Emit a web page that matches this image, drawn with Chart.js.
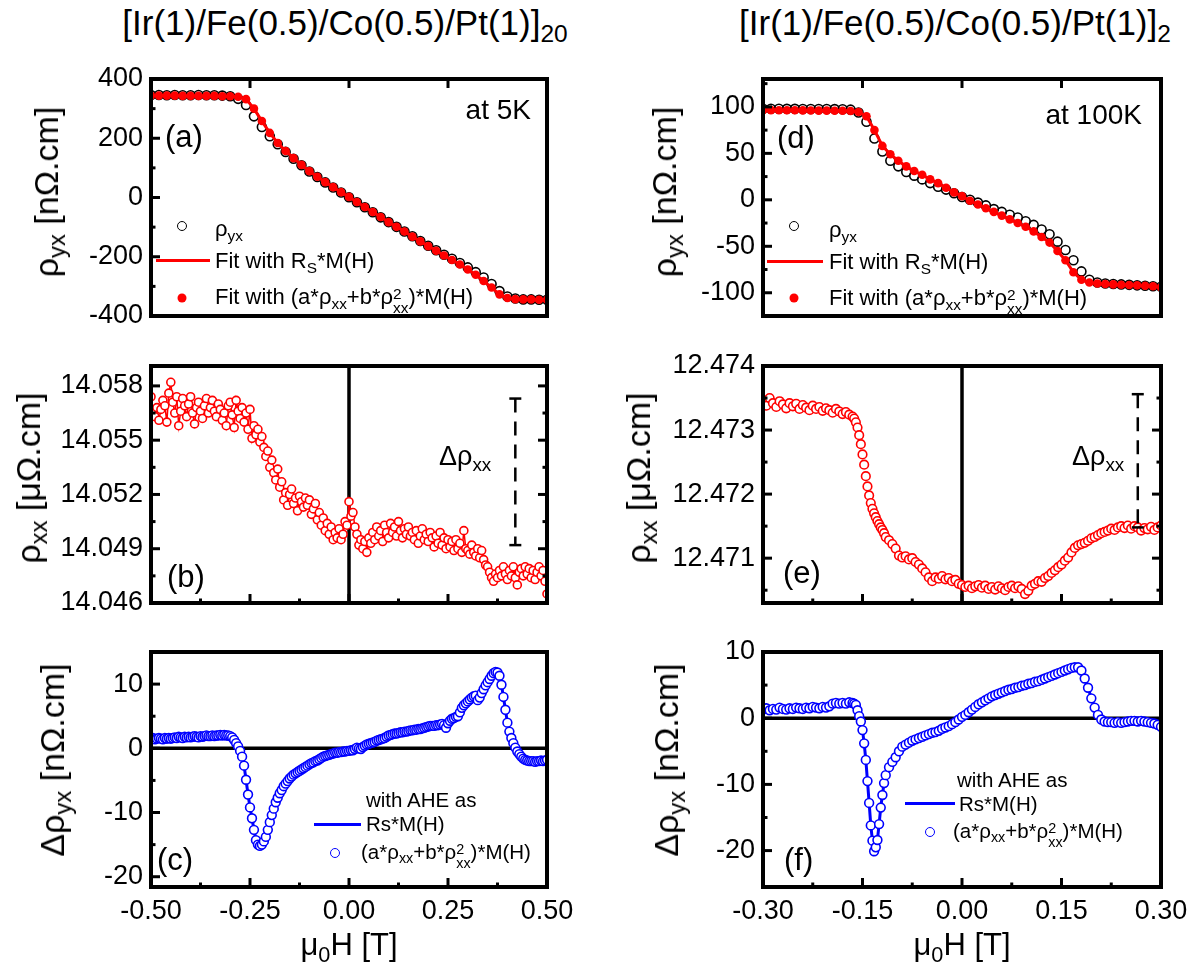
<!DOCTYPE html>
<html>
<head>
<meta charset="utf-8">
<script src="https://cdn.jsdelivr.net/npm/chart.js@4.4.1/dist/chart.umd.min.js"></script>
<style>
  body { margin: 0; background: #fff; }
  #fig { position: relative; width: 1202px; height: 971px; overflow: hidden;
         font-family: 'Liberation Sans', Arial, sans-serif; color: #000; }
  #fig canvas { position: absolute; z-index: 1; }
  .t { position: absolute; white-space: nowrap; line-height: 1; z-index: 2; }
  .rot { transform: translate(-50%, -50%) rotate(-90deg); }
  .ctr { transform: translateX(-50%); }
  sub { font-size: 0.7em; vertical-align: -0.3em; line-height: 0; }
  .ss { display: inline-flex; flex-direction: column; font-size: 0.7em; line-height: 0.95;
        vertical-align: 0.35em; }
  .sym { position: absolute; z-index: 2; }
  .oc { border-radius: 50%; transform: translate(-50%, -50%); box-sizing: border-box; }
</style>
</head>
<body>
<div id="fig">
  <!-- column titles -->
  <div class="t ctr" style="left:345px; top:5px; font-size:35px">[Ir(1)/Fe(0.5)/Co(0.5)/Pt(1)]<sub>20</sub></div>
  <div class="t ctr" style="left:955px; top:5px; font-size:35px">[Ir(1)/Fe(0.5)/Co(0.5)/Pt(1)]<sub>2</sub></div>

  <!-- y axis titles -->
  <div class="t rot" style="left:46px; top:192px; font-size:34px">ρ<sub>yx</sub> [nΩ.cm]</div>
  <div class="t rot" style="left:664px; top:192px; font-size:34px">ρ<sub>yx</sub> [nΩ.cm]</div>
  <div class="t rot" style="left:28px; top:478px; font-size:34px">ρ<sub>xx</sub> [μΩ.cm]</div>
  <div class="t rot" style="left:638px; top:478px; font-size:34px">ρ<sub>xx</sub> [μΩ.cm]</div>
  <div class="t rot" style="left:52px; top:760px; font-size:34px">Δρ<sub>yx</sub> [nΩ.cm]</div>
  <div class="t rot" style="left:666px; top:760px; font-size:34px">Δρ<sub>yx</sub> [nΩ.cm]</div>

  <!-- x axis titles -->
  <div class="t ctr" style="left:349px; top:929px; font-size:31px">μ<sub>0</sub>H [T]</div>
  <div class="t ctr" style="left:962px; top:929px; font-size:31px">μ<sub>0</sub>H [T]</div>

  <!-- panel labels and notes -->
  <div class="t" style="left:165px; top:121px; font-size:31px">(a)</div>
  <div class="t" style="right:671px; top:96px; font-size:28px">at 5K</div>
  <div class="t" style="left:777px; top:122px; font-size:31px">(d)</div>
  <div class="t" style="right:60px; top:101px; font-size:28px">at 100K</div>
  <div class="t" style="left:167px; top:561px; font-size:31px">(b)</div>
  <div class="t" style="left:439px; top:443px; font-size:27px">Δρ<sub>xx</sub></div>
  <div class="t" style="left:783px; top:557px; font-size:31px">(e)</div>
  <div class="t" style="left:1072px; top:443px; font-size:27px">Δρ<sub>xx</sub></div>
  <div class="t" style="left:157px; top:844px; font-size:31px">(c)</div>
  <div class="t" style="left:784px; top:844px; font-size:31px">(f)</div>

  <!-- legend (a) -->
  <div class="sym oc" style="left:182px; top:226px; width:10px; height:10px; border:1.5px solid #000"></div>
  <div class="t" style="left:215px; top:218px; font-size:22px">ρ<sub>yx</sub></div>
  <div class="sym" style="left:156px; top:259px; width:54px; height:3px; background:#f00"></div>
  <div class="t" style="left:215px; top:250px; font-size:22px">Fit with R<sub>S</sub>*M(H)</div>
  <div class="sym oc" style="left:182px; top:298px; width:9px; height:9px; background:#f00"></div>
  <div class="t" style="left:215px; top:286px; font-size:22px">Fit with (a*ρ<sub>xx</sub>+b*ρ<span class="ss"><span>2</span><span>xx</span></span>)*M(H)</div>

  <!-- legend (d) -->
  <div class="sym oc" style="left:794px; top:226px; width:10px; height:10px; border:1.5px solid #000"></div>
  <div class="t" style="left:829px; top:219px; font-size:22px">ρ<sub>yx</sub></div>
  <div class="sym" style="left:767px; top:260px; width:56px; height:3px; background:#f00"></div>
  <div class="t" style="left:829px; top:251px; font-size:22px">Fit with R<sub>S</sub>*M(H)</div>
  <div class="sym oc" style="left:794px; top:298px; width:9px; height:9px; background:#f00"></div>
  <div class="t" style="left:829px; top:287px; font-size:22px">Fit with (a*ρ<sub>xx</sub>+b*ρ<span class="ss"><span>2</span><span>xx</span></span>)*M(H)</div>

  <!-- legend (c) -->
  <div class="t" style="left:366px; top:790px; font-size:20.5px">with AHE as</div>
  <div class="sym" style="left:314px; top:823px; width:47px; height:3px; background:#00f"></div>
  <div class="t" style="left:366px; top:814px; font-size:20.5px">Rs*M(H)</div>
  <div class="sym oc" style="left:335px; top:853px; width:10px; height:10px; border:1.5px solid #00f"></div>
  <div class="t" style="left:361px; top:842px; font-size:20.5px">(a*ρ<sub>xx</sub>+b*ρ<span class="ss"><span>2</span><span>xx</span></span>)*M(H)</div>

  <!-- legend (f) -->
  <div class="t" style="left:957px; top:770px; font-size:20.5px">with AHE as</div>
  <div class="sym" style="left:905px; top:802px; width:50px; height:3px; background:#00f"></div>
  <div class="t" style="left:959px; top:794px; font-size:20.5px">Rs*M(H)</div>
  <div class="sym oc" style="left:930px; top:832px; width:10px; height:10px; border:1.5px solid #00f"></div>
  <div class="t" style="left:953px; top:821px; font-size:20.5px">(a*ρ<sub>xx</sub>+b*ρ<span class="ss"><span>2</span><span>xx</span></span>)*M(H)</div>
</div>

<script>
// ---- DATA ----

// (a) 5 K, Hall resistivity and fits [nOhm.cm]
const fieldA = [
  -0.50,-0.48,-0.46,-0.44,-0.42,-0.40,-0.38,-0.36,-0.34,-0.32,
  -0.30,-0.28,-0.26,-0.24,-0.22,-0.20,-0.18,-0.16,-0.14,-0.12,
  -0.10,-0.08,-0.06,-0.04,-0.02, 0.00, 0.02, 0.04, 0.06, 0.08,
   0.10, 0.12, 0.14, 0.16, 0.18, 0.20, 0.22, 0.24, 0.26, 0.28,
   0.30, 0.32, 0.34, 0.36, 0.38, 0.40, 0.42, 0.44, 0.46, 0.48,
   0.50
];
const rhoYxA = [
   346, 346, 345, 346, 345, 345, 346, 345, 345, 344,
   342, 333, 312, 274, 238, 207, 180, 154, 131, 109,
    88,  69,  51,  34,  17,   1, -16, -33, -50, -67,
   -83, -99,-115,-131,-147,-163,-178,-193,-207,-221,
  -236,-252,-270,-292,-316,-334,-341,-344,-344,-345,
  -345
];
// both fits (Rs*M and (a*rho+b*rho^2)*M) coincide at this scale
const fitA = [
   344, 344, 344, 344, 343, 343, 343, 343, 343, 342,
   342, 340, 332, 300, 258, 218, 184, 157, 133, 110,
    89,  70,  52,  35,  18,   2, -15, -32, -49, -66,
   -83, -99,-115,-132,-148,-164,-180,-196,-211,-226,
  -243,-261,-282,-304,-327,-339,-343,-344,-344,-345,
  -345
];

// (d) 100 K
const fieldD = [
  -0.300,-0.288,-0.276,-0.264,-0.252,-0.240,-0.228,-0.216,-0.204,-0.192,
  -0.180,-0.168,-0.156,-0.144,-0.132,-0.120,-0.108,-0.096,-0.084,-0.072,
  -0.060,-0.048,-0.036,-0.024,-0.012, 0.000, 0.012, 0.024, 0.036, 0.048,
   0.060, 0.072, 0.084, 0.096, 0.108, 0.120, 0.132, 0.144, 0.156, 0.168,
   0.180, 0.192, 0.204, 0.216, 0.228, 0.240, 0.252, 0.264, 0.276, 0.288,
   0.300
];
const rhoYxD = [
  98, 98, 98, 97.9, 97.9, 97.8, 97.8, 97.7, 97.7, 97.6,
  97.5, 97, 94, 84, 66, 52, 42, 36, 30, 26,
  22, 18, 14, 11, 7, 3, 0, -3, -6, -10,
  -13, -16, -19, -23, -27, -32, -37, -45, -54, -65,
  -77, -86, -89, -90, -90.5, -91, -91.5, -92, -92.5, -93,
  -93.5
];
const fitD = [
  96.5, 96.5, 96.4, 96.3, 96.3, 96.2, 96.1, 96.0, 96.0, 95.9,
  95.8, 95.5, 94.5, 90, 75, 58, 49, 42, 36, 31,
  27, 22, 18, 13, 8, 4, -1, -5, -9, -13,
  -17, -21, -25, -29, -34, -40, -46, -55, -65, -78,
  -86, -89, -90, -90.5, -91, -91.3, -91.7, -92, -92.5, -93,
  -94
];

// left column fine field grid, panels (b) and (c)
const fieldL = [
  -0.500,-0.495,-0.490,-0.485,-0.480,-0.475,-0.470,-0.465,-0.460,-0.455,
  -0.450,-0.445,-0.440,-0.435,-0.430,-0.425,-0.420,-0.415,-0.410,-0.405,
  -0.400,-0.395,-0.390,-0.385,-0.380,-0.375,-0.370,-0.365,-0.360,-0.355,
  -0.350,-0.345,-0.340,-0.335,-0.330,-0.325,-0.320,-0.315,-0.310,-0.305,
  -0.300,-0.295,-0.290,-0.285,-0.280,-0.275,-0.270,-0.265,-0.260,-0.255,
  -0.250,-0.245,-0.240,-0.235,-0.230,-0.225,-0.220,-0.215,-0.210,-0.205,
  -0.200,-0.195,-0.190,-0.185,-0.180,-0.175,-0.170,-0.165,-0.160,-0.155,
  -0.150,-0.145,-0.140,-0.135,-0.130,-0.125,-0.120,-0.115,-0.110,-0.105,
  -0.100,-0.095,-0.090,-0.085,-0.080,-0.075,-0.070,-0.065,-0.060,-0.055,
  -0.050,-0.045,-0.040,-0.035,-0.030,-0.025,-0.020,-0.015,-0.010,-0.005,
   0.000, 0.005, 0.010, 0.015, 0.020, 0.025, 0.030, 0.035, 0.040, 0.045,
   0.050, 0.055, 0.060, 0.065, 0.070, 0.075, 0.080, 0.085, 0.090, 0.095,
   0.100, 0.105, 0.110, 0.115, 0.120, 0.125, 0.130, 0.135, 0.140, 0.145,
   0.150, 0.155, 0.160, 0.165, 0.170, 0.175, 0.180, 0.185, 0.190, 0.195,
   0.200, 0.205, 0.210, 0.215, 0.220, 0.225, 0.230, 0.235, 0.240, 0.245,
   0.250, 0.255, 0.260, 0.265, 0.270, 0.275, 0.280, 0.285, 0.290, 0.295,
   0.300, 0.305, 0.310, 0.315, 0.320, 0.325, 0.330, 0.335, 0.340, 0.345,
   0.350, 0.355, 0.360, 0.365, 0.370, 0.375, 0.380, 0.385, 0.390, 0.395,
   0.400, 0.405, 0.410, 0.415, 0.420, 0.425, 0.430, 0.435, 0.440, 0.445,
   0.450, 0.455, 0.460, 0.465, 0.470, 0.475, 0.480, 0.485, 0.490, 0.495,
   0.500
];

// (b) longitudinal resistivity at 5 K [uOhm.cm]
const rhoXxB = [
  14.0574,14.0566,14.0563,14.0568,14.0561,14.0567,14.0572,14.0569,14.0560,14.0576,
  14.0582,14.0571,14.0565,14.0574,14.0558,14.0566,14.0573,14.0569,14.0563,14.0570,
  14.0574,14.0565,14.0559,14.0568,14.0571,14.0566,14.0562,14.0569,14.0573,14.0565,
  14.0568,14.0572,14.0566,14.0563,14.0570,14.0567,14.0561,14.0565,14.0558,14.0569,
  14.0571,14.0564,14.0557,14.0572,14.0566,14.0562,14.0568,14.0560,14.0565,14.0556,
  14.0567,14.0551,14.0558,14.0553,14.0556,14.0549,14.0552,14.0546,14.0541,14.0544,
  14.0535,14.0539,14.0532,14.0528,14.0534,14.0524,14.0527,14.0517,14.0521,14.0514,
  14.0520,14.0523,14.0515,14.0518,14.0511,14.0519,14.0516,14.0513,14.0518,14.0514,
  14.0517,14.0509,14.0512,14.0515,14.0506,14.0510,14.0503,14.0507,14.0500,14.0504,
  14.0498,14.0502,14.0495,14.0499,14.0496,14.0501,14.0495,14.0498,14.0505,14.0503,
  14.0516,14.0508,14.0510,14.0502,14.0498,14.0492,14.0495,14.0490,14.0494,14.0488,
  14.0496,14.0493,14.0499,14.0495,14.0502,14.0497,14.0500,14.0494,14.0503,14.0499,
  14.0496,14.0504,14.0499,14.0502,14.0497,14.0505,14.0500,14.0496,14.0501,14.0498,
  14.0502,14.0497,14.0499,14.0495,14.0500,14.0493,14.0497,14.0501,14.0495,14.0498,
  14.0494,14.0499,14.0496,14.0491,14.0497,14.0493,14.0499,14.0492,14.0496,14.0490,
  14.0495,14.0491,14.0494,14.0489,14.0495,14.0490,14.0493,14.0488,14.0500,14.0490,
  14.0489,14.0487,14.0492,14.0488,14.0486,14.0490,14.0485,14.0489,14.0484,14.0481,
  14.0480,14.0477,14.0474,14.0472,14.0476,14.0474,14.0478,14.0475,14.0480,14.0476,
  14.0473,14.0478,14.0475,14.0480,14.0474,14.0470,14.0477,14.0479,14.0475,14.0480,
  14.0476,14.0479,14.0474,14.0478,14.0473,14.0477,14.0480,14.0475,14.0478,14.0472,
  14.0465
];
const deltaFieldB = [0.42, 0.42];
const deltaRhoB = [14.0573, 14.0492];

// (c) difference between the two AHE fits at 5 K [nOhm.cm]
const dRhoYxC = [
   1.5, 1.6, 1.4, 1.5, 1.6, 1.5, 1.4, 1.6, 1.5, 1.6,
   1.5, 1.6, 1.7, 1.6, 1.8, 1.7, 1.6, 1.8, 1.7, 1.8,
   1.7, 1.8, 1.9, 1.8, 1.7, 1.9, 1.8, 1.9, 2.0, 1.9,
   1.9, 2.0, 1.9, 2.0, 2.0, 2.1, 2.0, 2.1, 2.0, 2.0,
   1.9, 1.7, 1.3, 0.8, 0.3,-0.4,-1.3,-2.7,-4.9,-7.2,
  -9.2,-10.9,-12.7,-14.3,-15.0,-15.2,-15.0,-14.5,-13.8,-12.7,
  -11.5,-10.4,-9.4,-8.4,-7.7,-7.0,-6.5,-5.9,-5.5,-5.1,
  -4.7,-4.4,-4.1,-3.9,-3.7,-3.5,-3.3,-3.1,-2.9,-2.7,
  -2.5,-2.3,-2.2,-2.0,-1.9,-1.7,-1.5,-1.3,-1.2,-1.1,
  -1.0,-0.9,-0.8,-0.7,-0.7,-0.6,-0.6,-0.5,-0.5,-0.4,
  -0.4,-0.3,-0.3,-0.1, 0.1, 0.0,-0.1, 0.2, 0.4, 0.6,
   0.7, 0.8, 0.9, 1.0, 1.2, 1.3, 1.4, 1.5, 1.6, 1.8,
   2.0, 2.1, 2.2, 2.3, 2.3, 2.4, 2.5, 2.5, 2.6, 2.6,
   2.7, 2.8, 2.8, 2.9, 2.9, 3.0, 3.0, 3.1, 3.2, 3.3,
   3.4, 3.5, 3.5, 3.5, 3.6, 3.6, 3.7, 3.8, 3.6, 3.2,
   3.9, 4.3, 4.6, 4.7, 4.9, 5.0, 5.6, 6.3, 6.7, 7.0,
   7.3, 7.6, 7.9, 8.1, 8.2, 7.5, 7.9, 8.6, 9.2, 9.8,
  10.3,10.8,11.3,11.7,11.9,11.8,11.3, 9.9, 8.0, 6.0,
   4.0, 2.6, 1.6, 0.8, 0.1,-0.5,-0.9,-1.3,-1.6,-1.8,
  -1.9,-2.0,-2.0,-2.0,-2.1,-2.0,-2.0,-1.9,-2.0,-1.9,
  -1.8
];

// right column field grid, panels (e) and (f), denser around the switching field
const fieldR = [
  -0.300,-0.295,-0.290,-0.285,-0.280,-0.275,-0.270,-0.265,-0.260,-0.255,
  -0.250,-0.245,-0.240,-0.235,-0.230,-0.225,-0.220,-0.215,-0.210,-0.205,
  -0.200,-0.195,-0.190,-0.185,-0.180,-0.175,-0.170,-0.165,
  -0.1625,-0.1600,-0.1575,-0.1550,-0.1525,-0.1500,-0.1475,-0.1450,-0.1425,-0.1400,
  -0.1375,-0.1350,-0.1325,-0.1300,-0.1275,-0.1250,-0.1225,-0.1200,-0.1175,-0.1150,
  -0.110,-0.105,-0.100,-0.095,-0.090,-0.085,-0.080,-0.075,-0.070,-0.065,
  -0.060,-0.055,-0.050,-0.045,-0.040,-0.035,-0.030,-0.025,-0.020,-0.015,
  -0.010,-0.005, 0.000, 0.005, 0.010, 0.015, 0.020, 0.025, 0.030, 0.035,
   0.040, 0.045, 0.050, 0.055, 0.060, 0.065, 0.070, 0.075, 0.080, 0.085,
   0.090, 0.095, 0.100, 0.105, 0.110, 0.115, 0.120, 0.125, 0.130, 0.135,
   0.140, 0.145, 0.150, 0.155, 0.160, 0.165, 0.170, 0.175, 0.180, 0.185,
   0.190, 0.195, 0.200, 0.205, 0.210, 0.215, 0.220, 0.225, 0.230, 0.235,
   0.240, 0.245, 0.250, 0.255, 0.260, 0.265, 0.270, 0.275, 0.280, 0.285,
   0.290, 0.295, 0.300
];

// (e) longitudinal resistivity at 100 K [uOhm.cm]
const rhoXxE = [
  12.47347,12.47338,12.47350,12.47342,12.47336,12.47345,12.47340,12.47334,12.47342,12.47337,
  12.47341,12.47333,12.47339,12.47335,12.47331,12.47338,12.47333,12.47336,12.47330,12.47334,
  12.47331,12.47327,12.47333,12.47329,12.47325,12.47328,12.47324,12.47321,
  12.47318,12.47312,12.47304,12.47292,12.47278,12.47262,12.47246,12.47228,12.47212,12.47198,
  12.47186,12.47177,12.47170,12.47164,12.47158,12.47153,12.47148,12.47144,12.47139,12.47133,
  12.47128,12.47122,12.47115,12.47104,12.47101,12.47103,12.47098,12.47100,12.47094,12.47090,
  12.47084,12.47078,12.47070,12.47064,12.47070,12.47068,12.47072,12.47067,12.47069,12.47064,
  12.47066,12.47060,12.47058,12.47055,12.47057,12.47053,12.47056,12.47058,12.47054,12.47057,
  12.47052,12.47055,12.47051,12.47056,12.47053,12.47050,12.47055,12.47057,12.47053,12.47056,
  12.47052,12.47044,12.47049,12.47057,12.47060,12.47064,12.47063,12.47069,12.47072,12.47077,
  12.47081,12.47086,12.47090,12.47096,12.47101,12.47109,12.47116,12.47120,12.47122,12.47124,
  12.47127,12.47131,12.47133,12.47136,12.47139,12.47141,12.47143,12.47146,12.47144,12.47148,
  12.47150,12.47147,12.47151,12.47146,12.47150,12.47148,12.47143,12.47147,12.47145,12.47149,
  12.47144,12.47148,12.47151
];
const deltaFieldE = [0.265, 0.265];
const deltaRhoE = [12.47356, 12.47148];

// (f) difference between the two AHE fits at 100 K [nOhm.cm]
const dRhoYxF = [
   1.3, 1.5, 1.2, 1.4, 1.3, 1.6, 1.4, 1.3, 1.5, 1.4,
   1.6, 1.5, 1.4, 1.6, 1.5, 1.7, 1.6, 1.5, 1.7, 1.6,
   1.8, 2.2, 2.3, 2.2, 2.3, 2.2, 2.4, 2.3,
   2.2, 2.0, 1.2, 0.3,-0.5,-1.8,-3.8,-6.3,-9.5,-12.8,
  -16.2,-18.5,-20.1,-19.5,-18.4,-16.0,-13.5,-11.6,-9.8,-8.6,
  -7.4,-6.6,-5.9,-5.0,-4.3,-4.0,-3.7,-3.4,-3.2,-3.0,
  -2.8,-2.6,-2.4,-2.2,-2.1,-1.9,-1.6,-1.4,-1.2,-0.9,
  -0.6,-0.2, 0.2, 0.5, 0.9, 1.3, 1.7, 2.1, 2.4, 2.7,
   3.0, 3.3, 3.5, 3.7, 3.9, 4.1, 4.3, 4.4, 4.6, 4.7,
   4.9, 5.0, 5.2, 5.3, 5.5, 5.6, 5.8, 6.0, 6.2, 6.4,
   6.6, 6.8, 7.0, 7.2, 7.4, 7.6, 7.7, 7.7, 7.2, 6.0,
   4.6, 3.0, 1.6, 0.5,-0.2,-0.5,-0.6,-0.6,-0.7,-0.6,
  -0.7,-0.6,-0.5,-0.4,-0.4,-0.5,-0.4,-0.5,-0.6,-0.7,
  -0.8,-1.0,-1.3
];

// tick labels
const xTicksLeft  = [-0.5, -0.25, 0, 0.25, 0.5];
const xTicksRight = [-0.3, -0.15, 0, 0.15, 0.3];
const yTicksA = [-400, -200, 0, 200, 400];
const yTicksD = [-100, -50, 0, 50, 100];
const yTicksB = [14.046, 14.049, 14.052, 14.055, 14.058];
const yTicksE = [12.471, 12.472, 12.473, 12.474];
const yTicksC = [-20, -10, 0, 10];
const yTicksF = [-20, -10, 0, 10];

// ---- LAYOUT ----
const FONT = "'Liberation Sans', Arial, sans-serif";
Chart.defaults.font.family = FONT;
Chart.defaults.color = '#000';

const LEFT  = { l: 151, r: 547, xMin: -0.5, xMax: 0.5, xTicks: xTicksLeft };
const RIGHT = { l: 763, r: 1161, xMin: -0.3, xMax: 0.3, xTicks: xTicksRight };
const AXIS_W = 120, PAD_T = 30, PAD_R = 40;
const TICK_FONT = 27;
const RED = '#ff0000', BLUE = '#0000ff';

const pts = (xs, ys) => xs.map((x, i) => ({ x, y: ys[i] }));

function minorTicks(major, min, max) {
  const step = major[1] - major[0];
  const out = [];
  [major[0] - step, ...major].forEach(v => {
    const m = v + step / 2;
    if (m > min + step * 0.05 && m < max - step * 0.05) out.push(m);
  });
  return out;
}

// frame, inward ticks and zero lines, Origin style
const framePlugin = {
  id: 'frame',
  beforeDatasetsDraw(chart, args, o) {
    const { ctx, chartArea: a, scales: { x, y } } = chart;
    ctx.save();
    ctx.strokeStyle = '#000';
    ctx.lineWidth = 3.5;
    ctx.beginPath();
    if (o.zeroX) { const px = x.getPixelForValue(0); ctx.moveTo(px, a.top); ctx.lineTo(px, a.bottom); }
    if (o.zeroY) { const py = y.getPixelForValue(0); ctx.moveTo(a.left, py); ctx.lineTo(a.right, py); }
    ctx.stroke();
    ctx.restore();
  },
  afterDatasetsDraw(chart, args, o) {
    const { ctx, chartArea: a, scales: { x, y } } = chart;
    ctx.save();
    ctx.strokeStyle = '#000';
    ctx.lineWidth = 3;
    ctx.lineCap = 'butt';
    const xMaj = x.ticks.map(t => t.value).filter(v => v > x.min && v < x.max);
    const yMaj = y.ticks.map(t => t.value).filter(v => v > y.min && v < y.max);
    const xMin = minorTicks(x.ticks.map(t => t.value), x.min, x.max);
    const yMin = minorTicks(y.ticks.map(t => t.value), y.min, y.max);
    const sides = o.sides || {};
    const draw = (side, values, len) => {
      values.forEach(v => {
        ctx.beginPath();
        if (side === 'left')   { const p = y.getPixelForValue(v); ctx.moveTo(a.left, p);  ctx.lineTo(a.left + len, p); }
        if (side === 'right')  { const p = y.getPixelForValue(v); ctx.moveTo(a.right, p); ctx.lineTo(a.right - len, p); }
        if (side === 'top')    { const p = x.getPixelForValue(v); ctx.moveTo(p, a.top);   ctx.lineTo(p, a.top + len); }
        if (side === 'bottom') { const p = x.getPixelForValue(v); ctx.moveTo(p, a.bottom); ctx.lineTo(p, a.bottom - len); }
        ctx.stroke();
      });
    };
    Object.entries(sides).forEach(([side, kind]) => {
      const horiz = side === 'top' || side === 'bottom';
      draw(side, horiz ? xMaj : yMaj, 9);
      if (kind === 'both') draw(side, horiz ? xMin : yMin, 4.5);
    });
    ctx.lineWidth = 4;
    ctx.lineJoin = 'miter';
    ctx.strokeRect(a.left, a.top, a.right - a.left, a.bottom - a.top);
    ctx.restore();
  }
};

function makePanel(col, top, bottom, p) {
  const hx = p.xLabels ? 50 : 30;
  const cv = document.createElement('canvas');
  cv.width = AXIS_W + (col.r - col.l) + PAD_R;
  cv.height = PAD_T + (bottom - top) + hx;
  cv.style.left = (col.l - AXIS_W) + 'px';
  cv.style.top = (top - PAD_T) + 'px';
  document.getElementById('fig').appendChild(cv);

  new Chart(cv, {
    type: 'scatter',
    data: { datasets: p.datasets },
    options: {
      responsive: false,
      animation: false,
      devicePixelRatio: 1,
      layout: { padding: { top: PAD_T, right: PAD_R, left: 0, bottom: 0 } },
      plugins: {
        legend: { display: false },
        tooltip: { enabled: false },
        frame: { sides: p.sides, zeroX: p.zeroX, zeroY: p.zeroY }
      },
      scales: {
        x: {
          type: 'linear', min: col.xMin, max: col.xMax,
          afterBuildTicks: s => { s.ticks = col.xTicks.map(v => ({ value: v })); },
          afterFit: s => { s.height = hx; },
          grid: { display: false, drawTicks: false },
          border: { display: false },
          ticks: {
            display: !!p.xLabels, padding: 8, autoSkip: false, maxRotation: 0,
            font: { size: TICK_FONT }, color: '#000',
            callback: v => Number(v).toFixed(2)
          }
        },
        y: {
          type: 'linear', min: p.yMin, max: p.yMax,
          afterBuildTicks: s => { s.ticks = p.yTicks.map(v => ({ value: v })); },
          afterFit: s => { s.width = AXIS_W; },
          grid: { display: false, drawTicks: false },
          border: { display: false },
          ticks: {
            padding: 8, autoSkip: false, font: { size: TICK_FONT }, color: '#000',
            callback: v => Number(v).toFixed(p.yDec)
          }
        }
      }
    },
    plugins: [framePlugin]
  });
}

const dotFit = (xs, ys) => ({
  data: pts(xs, ys), showLine: false, pointStyle: 'circle', pointRadius: 4.3,
  pointBackgroundColor: RED, pointBorderColor: RED, pointBorderWidth: 0
});
const lineFit = (xs, ys, color) => ({
  data: pts(xs, ys), showLine: true, borderColor: color, borderWidth: 3,
  pointRadius: 0, tension: 0
});
const openCircles = (xs, ys, color, r, join) => ({
  data: pts(xs, ys), showLine: !!join, borderColor: color, borderWidth: 1.5,
  pointStyle: 'circle', pointRadius: r, pointBorderWidth: 1.6,
  pointBorderColor: color, pointBackgroundColor: join === undefined ? 'rgba(0,0,0,0)' : '#fff'
});
const deltaBar = (xs, ys) => ({
  data: pts(xs, ys), showLine: true, borderColor: '#000', borderWidth: 2.5,
  borderDash: [14, 9], pointStyle: 'line', pointRadius: 6,
  pointBorderWidth: 2.5, pointBorderColor: '#000'
});

// ---- PANELS ----
makePanel(LEFT, 79, 316, {
  yMin: -400, yMax: 400, yTicks: yTicksA, yDec: 0,
  sides: { left: 'both', top: 'major' },
  datasets: [dotFit(fieldA, fitA), lineFit(fieldA, fitA, RED), openCircles(fieldA, rhoYxA, '#000', 4.5)]
});
makePanel(RIGHT, 79, 316, {
  yMin: -125, yMax: 130, yTicks: yTicksD, yDec: 0,
  sides: { left: 'both', top: 'major' },
  datasets: [dotFit(fieldD, fitD), lineFit(fieldD, fitD, RED), openCircles(fieldD, rhoYxD, '#000', 4.5)]
});
makePanel(LEFT, 366, 603, {
  yMin: 14.046, yMax: 14.0591, yTicks: yTicksB, yDec: 3,
  sides: { left: 'both', right: 'both', bottom: 'both' }, zeroX: true,
  datasets: [deltaBar(deltaFieldB, deltaRhoB), openCircles(fieldL, rhoXxB, RED, 4, true)]
});
makePanel(RIGHT, 366, 603, {
  yMin: 12.4703, yMax: 12.474, yTicks: yTicksE, yDec: 3,
  sides: { left: 'both', right: 'both', bottom: 'both' }, zeroX: true,
  datasets: [deltaBar(deltaFieldE, deltaRhoE), openCircles(fieldR, rhoXxE, RED, 4.3, false)]
});
makePanel(LEFT, 652, 887, {
  yMin: -21.6, yMax: 15, yTicks: yTicksC, yDec: 0, xLabels: true,
  sides: { left: 'both', bottom: 'both' }, zeroY: true,
  datasets: [openCircles(fieldL, dRhoYxC, BLUE, 4.4, false), lineFit(fieldL, dRhoYxC, BLUE)]
});
makePanel(RIGHT, 652, 887, {
  yMin: -25.5, yMax: 10, yTicks: yTicksF, yDec: 0, xLabels: true,
  sides: { left: 'both', bottom: 'both' }, zeroY: true,
  datasets: [openCircles(fieldR, dRhoYxF, BLUE, 4.4, false), lineFit(fieldR, dRhoYxF, BLUE)]
});
</script>
</body>
</html>
